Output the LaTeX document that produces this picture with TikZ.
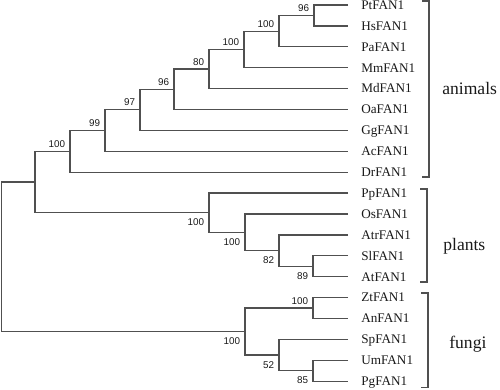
\documentclass[tikz,border=0pt]{standalone}
\usepackage{fontspec}
\setmainfont{Liberation Serif}
\newfontfamily\bsfont{Liberation Sans}
\usetikzlibrary{calc}
\definecolor{linegray}{RGB}{80,80,80}
\definecolor{txt}{RGB}{25,25,25}
\newcommand\mytn[4]{%
  \coordinate (#1m) at ($(#3)!0.5!(#4)$);
  \coordinate (#1) at (#1m -| #2,0);
  \draw[br] (#3) -- (#1 |- #3) -- (#1 |- #4) -- (#4);
}
\begin{document}
\begin{tikzpicture}[x=0.02cm,y=-0.02cm,
  br/.style={draw=linegray, line width=0.7pt},
  leaf/.style={anchor=base west, inner sep=0pt, text=txt, font=\fontsize{7.5}{8}\selectfont},
  grp/.style={anchor=base west, inner sep=0pt, text=txt, font=\fontsize{10}{12}\selectfont},
  bsa/.style={anchor=base east, inner sep=0pt, text=txt, font=\bsfont\fontsize{5.6}{6}\selectfont},
]
\useasboundingbox (0,0) rectangle (500,389);
% leaves
\foreach \n [count=\i from 0] in {Pt,Hs,Pa,Mm,Md,Oa,Gg,Ac,Dr,Pp,Os,Atr,Sl,At,Zt,An,Sp,Um,Pg} {
  \coordinate (\n) at (348, {5+20.9*\i});
  \node[leaf] (\n L) at (361, {9.3+20.9*\i}) {\n FAN1};
}
% animals
\mytn{a1}{314}{Pt}{Hs}
\mytn{a2}{279}{a1}{Pa}
\mytn{a3}{244}{a2}{Mm}
\mytn{a4}{209}{a3}{Md}
\mytn{a5}{174}{a4}{Oa}
\mytn{a6}{140}{a5}{Gg}
\mytn{a7}{105}{a6}{Ac}
\mytn{a8}{70}{a7}{Dr}
% plants
\mytn{p1}{313}{Sl}{At}
\mytn{p2}{279}{Atr}{p1}
\mytn{p3}{245}{Os}{p2}
\mytn{p4}{209}{Pp}{p3}
% fungi
\mytn{f1}{313}{Zt}{An}
\mytn{f2}{313}{Um}{Pg}
\mytn{f3}{279}{Sp}{f2}
\mytn{f4}{245}{f1}{f3}
% upper
\mytn{ap}{35}{a8}{p4}
\mytn{root}{1.5}{ap}{f4}
% bootstrap labels
\foreach \c/\v in {a1/96,a2/100,a3/100,a4/80,a5/96,a6/97,a7/99,a8/100,f1/100}
  \node[bsa] (\c b) at ($(\c)+(-4.5,-4)$) {\v};
\foreach \c/\v in {p4/100,p3/100,p2/82,p1/89,f4/100,f3/52,f2/85}
  \node[bsa] (\c b) at ($(\c)+(-4.5,13)$) {\v};
% brackets
\draw[br] (422,1) -- (429,1) -- (429,177) -- (422,177);
\draw[br] (420,189) -- (427,189) -- (427,282) -- (420,282);
\draw[br] (421,293) -- (428,293) -- (428,387.5) -- (421,387.5);
\node[grp] (gA) at (442,94) {animals};
\node[grp] (gP) at (443,250) {plants};
\node[grp] (gF) at (449,348) {fungi};
\end{tikzpicture}
\end{document}
